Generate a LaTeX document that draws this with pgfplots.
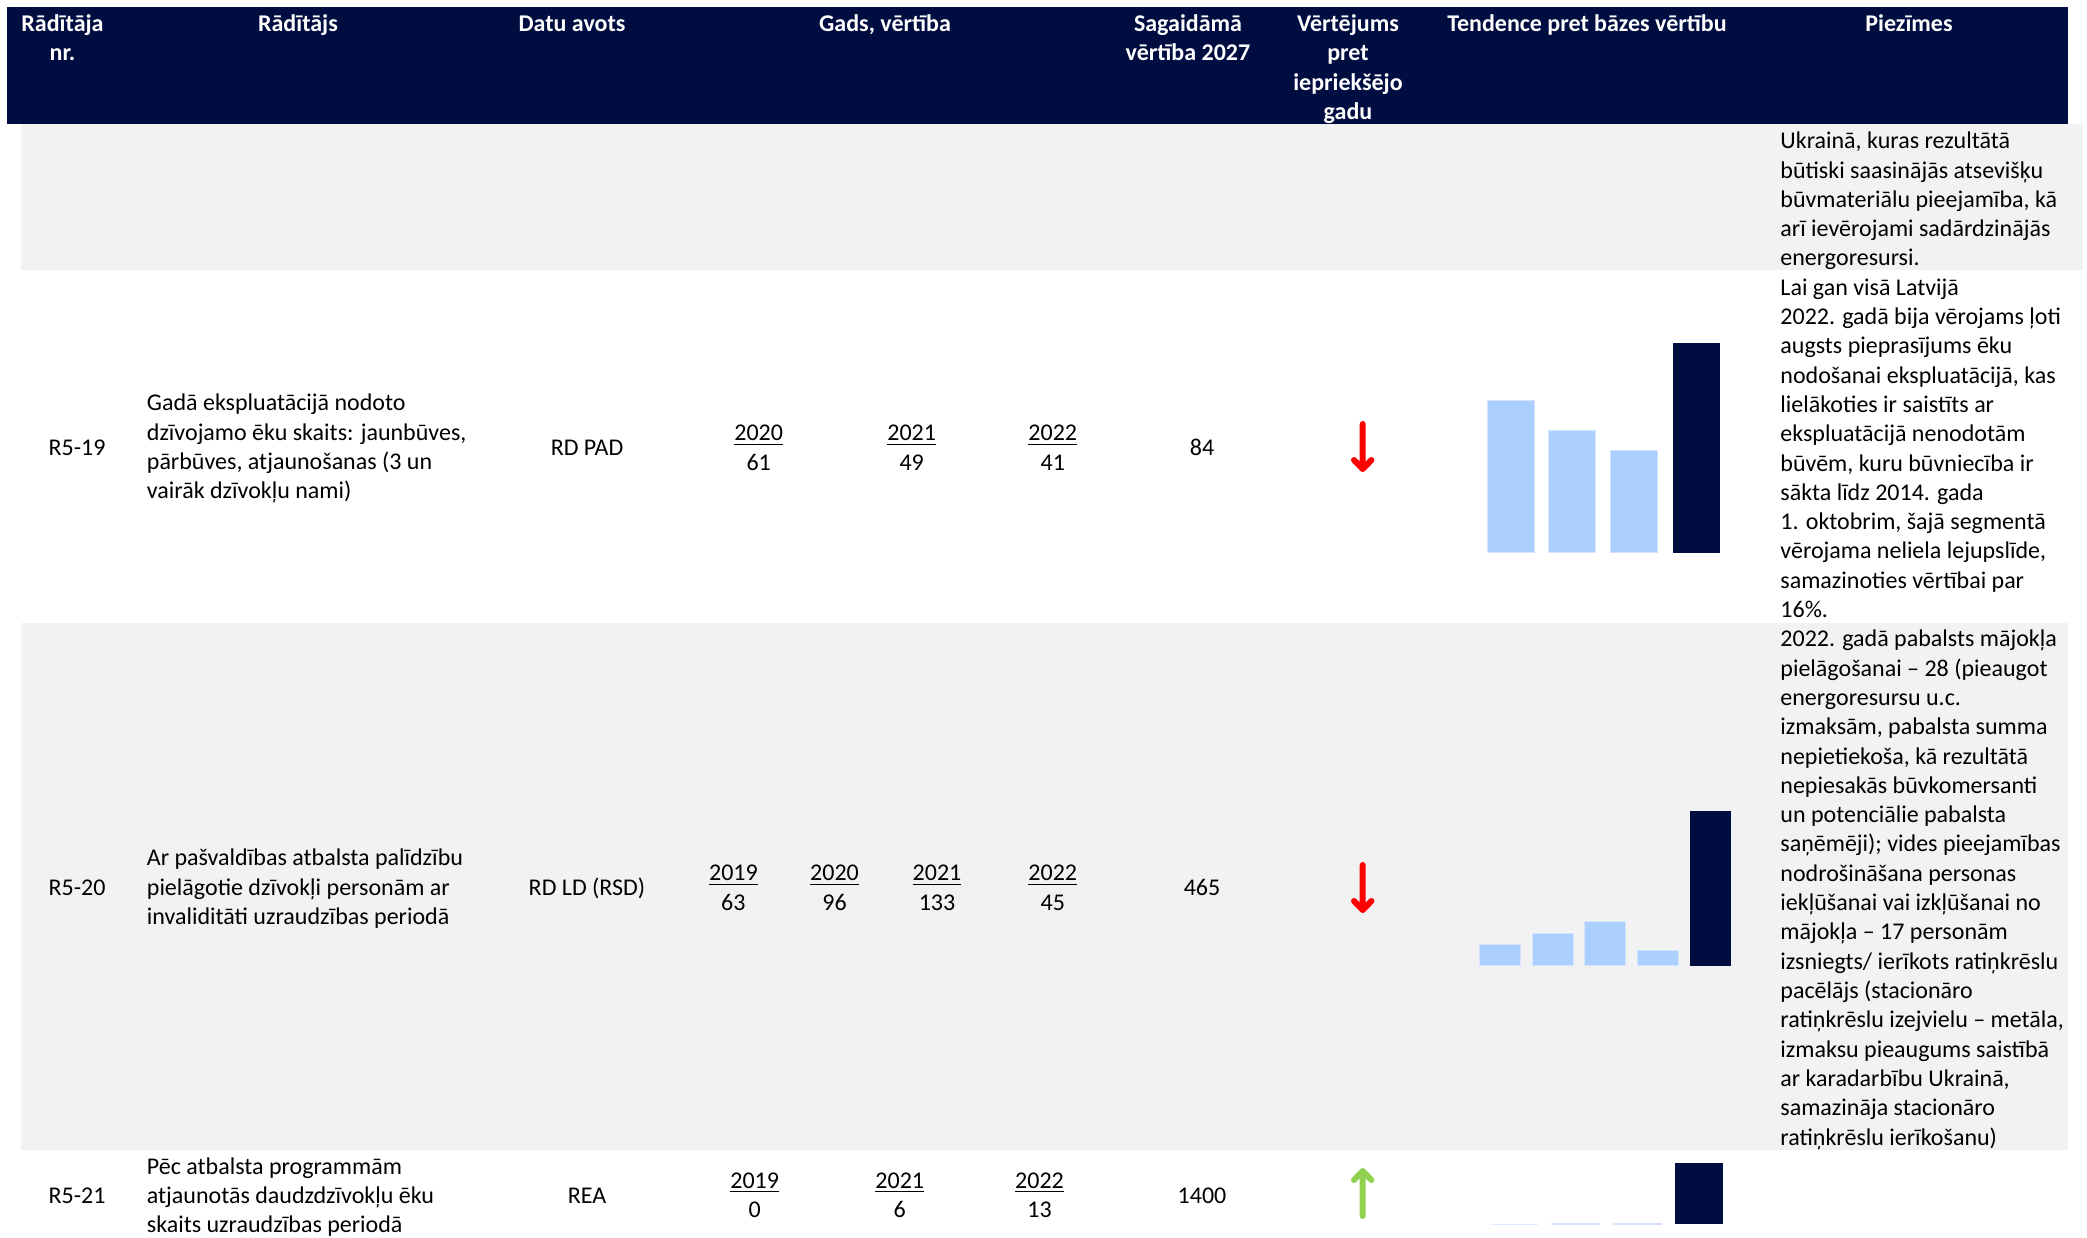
\documentclass[border=0pt]{standalone}
\usepackage{fontspec}
\setmainfont{Carlito}
\usepackage{pgfplots}
\pgfplotsset{compat=1.18}
\definecolor{navy}{RGB}{0,13,64}
\definecolor{lblue}{RGB}{171,207,255}
\definecolor{ledge}{RGB}{212,228,255}
\definecolor{gr}{RGB}{242,242,242}
\definecolor{agreen}{RGB}{146,208,80}
\definecolor{ared}{RGB}{255,0,0}
\newcommand\tf{\fontsize{12pt}{14.65pt}\selectfont}
\pgfplotsset{minibar/.style={scale only axis, axis lines=none, ticks=none, enlargelimits=false, clip=false, ybar, bar shift=0pt, ymin=0, anchor=south west}}
\begin{document}
\begin{tikzpicture}
\useasboundingbox (0,0) rectangle (1043.5pt,618.5pt);
\begin{axis}[at={(0pt,0pt)}, anchor=south west, scale only axis, width=1043.5pt, height=618.5pt,
  xmin=0, xmax=2087, ymin=0, ymax=1237, y dir=reverse, axis lines=none, ticks=none, clip=false]
\fill[navy] (axis cs:7,7) rectangle (axis cs:2068,124);
\fill[gr] (axis cs:21,124) rectangle (axis cs:2083,270);
\fill[gr] (axis cs:21,623) rectangle (axis cs:2068,1150);
\draw[ared, line width=3pt, line cap=round, line join=round] (axis cs:1362.7,424) -- (axis cs:1362.7,469) (axis cs:1354,460) -- (axis cs:1362.7,469) -- (axis cs:1371.4,460);
\draw[ared, line width=3pt, line cap=round, line join=round] (axis cs:1362.7,865) -- (axis cs:1362.7,910) (axis cs:1354,901) -- (axis cs:1362.7,910) -- (axis cs:1371.4,901);
\draw[agreen, line width=3pt, line cap=round, line join=round] (axis cs:1362.7,1216) -- (axis cs:1362.7,1171) (axis cs:1354,1180) -- (axis cs:1362.7,1171) -- (axis cs:1371.4,1180);
\end{axis}

% R5-19 mini chart
\begin{axis}[minibar, at={(739.8pt,342pt)}, width=123.7pt, height=105pt, xmin=-0.5, xmax=3.5, ymax=84, bar width=23.5pt]
\addplot[ybar, bar shift=0pt, fill=lblue, draw=ledge, line width=0.5pt] coordinates {(0,61) (1,49) (2,41)};
\addplot[ybar, bar shift=0pt, fill=navy, draw=none] coordinates {(3,84)};
\end{axis}
% R5-20 mini chart
\begin{axis}[minibar, at={(736.85pt,135.65pt)}, width=131.5pt, height=77.35pt, xmin=-0.5, xmax=4.5, ymax=465, bar width=20.5pt]
\addplot[ybar, bar shift=0pt, fill=lblue, draw=ledge, line width=0.5pt] coordinates {(0,63) (1,96) (2,133) (3,45)};
\addplot[ybar, bar shift=0pt, fill=navy, draw=none] coordinates {(4,465)};
\end{axis}
% R5-21 mini chart
\begin{axis}[minibar, at={(741.5pt,6.5pt)}, width=123.5pt, height=30.5pt, xmin=-0.5, xmax=3.5, ymax=1400, bar width=24pt]
\addplot[ybar, bar shift=0pt, fill=lblue, draw=ledge, line width=0.5pt] coordinates {(0,0) (1,6) (2,13)};
\addplot[ybar, bar shift=0pt, fill=navy, draw=none] coordinates {(3,1400)};
\end{axis}

\begin{scope}[shift={(0pt,617.75pt)}, x=0.5pt, y=-0.5pt, every node/.style={inner sep=0pt, font=\tf}]
% header
\begin{scope}[every node/.append style={text=white, font=\tf\bfseries, anchor=base}]
\node at (62.5,30) {Rādītāja};
\node at (62.5,59.3) {nr.};
\node at (298,30) {Rādītājs};
\node at (572,30) {Datu avots};
\node at (885,30) {Gads, vērtība};
\node at (1188,30) {Sagaidāmā};
\node at (1188,59.3) {vērtība 2027};
\node at (1348,30) {Vērtējums};
\node at (1348,59.3) {pret};
\node at (1348,88.6) {iepriekšējo};
\node at (1348,117.9) {gadu};
\node at (1587,30) {Tendence pret bāzes vērtību};
\node at (1909,30) {Piezīmes};
\end{scope}
% notes
\foreach \t [count=\i from 0] in {{Ukrainā, kuras rezultātā},{būtiski saasinājās atsevišķu},{būvmateriālu pieejamība, kā},{arī ievērojami sadārdzinājās},{energoresursi.},
{Lai gan visā Latvijā},{2022. gadā bija vērojams ļoti},{augsts pieprasījums ēku},{nodošanai ekspluatācijā, kas},{lielākoties ir saistīts ar},{ekspluatācijā nenodotām},{būvēm, kuru būvniecība ir},{sākta līdz 2014. gada},{1. oktobrim, šajā segmentā},{vērojama neliela lejupslīde,},{samazinoties vērtībai par},{16\%.},
{2022. gadā pabalsts mājokļa},{pielāgošanai – 28 (pieaugot},{energoresursu u.c.},{izmaksām, pabalsta summa},{nepietiekoša, kā rezultātā},{nepiesakās būvkomersanti},{un potenciālie pabalsta},{saņēmēji); vides pieejamības},{nodrošināšana personas},{iekļūšanai vai izkļūšanai no},{mājokļa – 17 personām},{izsniegts/ ierīkots ratiņkrēslu},{pacēlājs (stacionāro},{ratiņkrēslu izejvielu – metāla,},{izmaksu pieaugums saistībā},{ar karadarbību Ukrainā,},{samazināja stacionāro},{ratiņkrēslu ierīkošanu)}}
{\node[anchor=base west] at (1780,{147.3+\i*29.3}) {\t};}
% R5-19
\node[anchor=base] at (77,454) {R5-19};
\foreach \t [count=\i from 0] in {{Gadā ekspluatācijā nodoto},{dzīvojamo ēku skaits: jaunbūves,},{pārbūves, atjaunošanas (3 un},{vairāk dzīvokļu nami)}}
{\node[anchor=base west] at (146.5,{409.5+\i*29.3}) {\t};}
\node[anchor=base] at (587,454) {RD PAD};
\node[anchor=base] at (758.7,439.5) {\underline{2020}};
\node[anchor=base] at (758.7,468.8) {61};
\node[anchor=base] at (911.7,439.5) {\underline{2021}};
\node[anchor=base] at (911.7,468.8) {49};
\node[anchor=base] at (1052.8,439.5) {\underline{2022}};
\node[anchor=base] at (1052.8,468.8) {41};
\node[anchor=base] at (1202,454) {84};
% R5-20
\node[anchor=base] at (77,894) {R5-20};
\foreach \t [count=\i from 0] in {{Ar pašvaldības atbalsta palīdzību},{pielāgotie dzīvokļi personām ar},{invaliditāti uzraudzības periodā}}
{\node[anchor=base west] at (146.5,{864.5+\i*29.3}) {\t};}
\node[anchor=base] at (587,894) {RD LD (RSD)};
\node[anchor=base] at (733.4,879.5) {\underline{2019}};
\node[anchor=base] at (733.4,908.8) {63};
\node[anchor=base] at (834.5,879.5) {\underline{2020}};
\node[anchor=base] at (834.5,908.8) {96};
\node[anchor=base] at (937,879.5) {\underline{2021}};
\node[anchor=base] at (937,908.8) {133};
\node[anchor=base] at (1052.8,879.5) {\underline{2022}};
\node[anchor=base] at (1052.8,908.8) {45};
\node[anchor=base] at (1202,894) {465};
% R5-21
\node[anchor=base] at (77,1201.5) {R5-21};
\foreach \t [count=\i from 0] in {{Pēc atbalsta programmām},{atjaunotās daudzdzīvokļu ēku},{skaits uzraudzības periodā}}
{\node[anchor=base west] at (146.5,{1172.5+\i*29.3}) {\t};}
\node[anchor=base] at (587,1201.5) {REA};
\node[anchor=base] at (754.7,1187) {\underline{2019}};
\node[anchor=base] at (754.7,1216.3) {0};
\node[anchor=base] at (899.8,1187) {\underline{2021}};
\node[anchor=base] at (899.8,1216.3) {6};
\node[anchor=base] at (1039.5,1187) {\underline{2022}};
\node[anchor=base] at (1039.5,1216.3) {13};
\node[anchor=base] at (1202,1201.5) {1400};
\end{scope}
\end{tikzpicture}
\end{document}
